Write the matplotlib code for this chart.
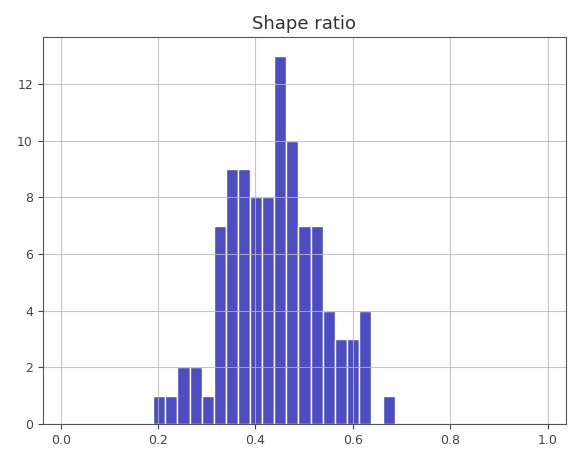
import matplotlib
matplotlib.use("Agg")
import matplotlib.pyplot as plt
import numpy as np

# histogram of shape ratio: 20 equal bins between the data min and max
counts = [1, 1, 2, 2, 1, 7, 9, 9, 8, 8, 13, 10, 7, 7, 4, 3, 3, 4, 0, 1]
bin_lo, bin_hi = 0.19, 0.687
title = "Shape ratio"

BAR = "#4c4cc3"

edges = np.linspace(bin_lo, bin_hi, len(counts) + 1)
centres = (edges[:-1] + edges[1:]) / 2

fig = plt.figure(figsize=(5.74, 4.53), dpi=100)
ax = fig.add_axes([0.0744, 0.064, 0.9111, 0.8537])
ax.hist(centres, bins=edges, weights=counts, color=BAR, edgecolor="white",
        linewidth=1.0, zorder=1)
ax.set_xlim(-0.037, 1.037)
ax.set_xticks([0.0, 0.2, 0.4, 0.6, 0.8, 1.0])
ax.set_yticks(range(0, 13, 2))
# grid sits above the bars, as in pandas' default hist
ax.set_axisbelow("line")
ax.grid(True, color="#b8b8b8", lw=0.8, alpha=0.8)
for s in ax.spines.values():
    s.set_color("#555555")
ax.tick_params(labelsize=9, colors="#444444", length=3.5)
ax.set_title(title, fontsize=13, color="#333333", pad=6)
fig.savefig("out.png", dpi=100)
